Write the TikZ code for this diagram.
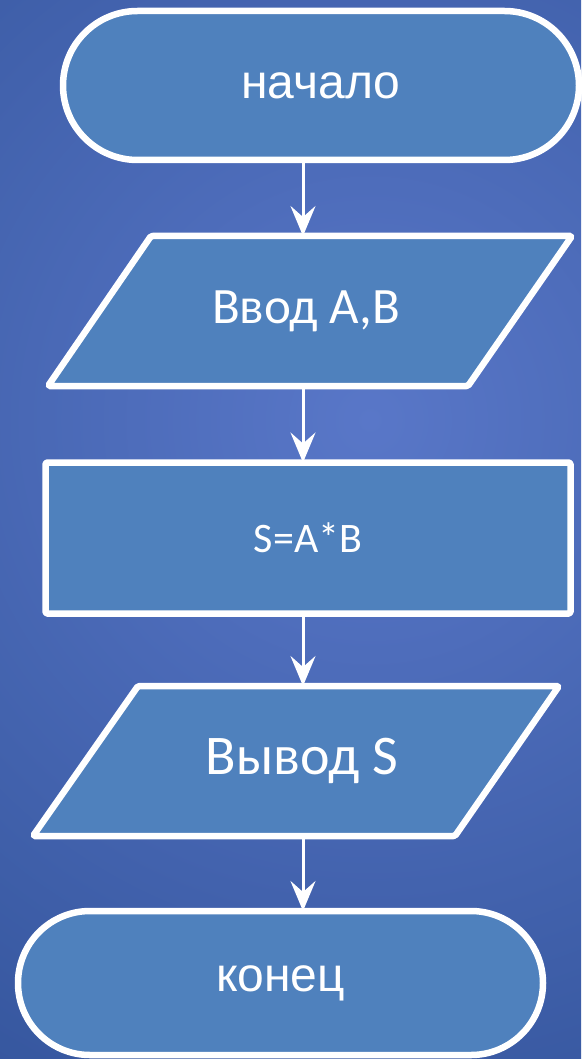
\documentclass[tikz,border=0pt]{standalone}
\usepackage{fontspec}
\setmainfont{Carlito}
\newfontfamily\termfont{Liberation Sans}
\usetikzlibrary{shapes.misc,shadows,arrows.meta}
\definecolor{bgin}{HTML}{5977C8}
\definecolor{bgout}{HTML}{1C3F80}
\definecolor{shapefill}{HTML}{4F81BD}
\tikzset{
  x=1pt,y=-1pt,
  blockbase/.style={draw=white,line width=6.5pt,fill=shapefill,text=white,
    line join=round,
    drop shadow={opacity=0.35,shadow xshift=1pt,shadow yshift=-2.5pt},
    inner sep=0pt,outer sep=0pt},
  termbox/.style={blockbase,rounded rectangle,font=\termfont\fontsize{48}{58}\selectfont},
  iopath/.style={blockbase,rounded corners=1.5pt},
  iotext/.style={draw=none,fill=none,text=white,inner sep=0pt,outer sep=0pt,
    minimum width=420pt,minimum height=150pt},
  procbox/.style={blockbase,rectangle,rounded corners=1.5pt,font=\fontsize{42}{50}\selectfont},
  flow/.style={draw=white,line width=3pt,-{Stealth[length=30pt,width=25pt,inset=11pt]}}
}
\begin{document}
\begin{tikzpicture}
\useasboundingbox (0,0) rectangle (581,1059);
\fill[bgout] (0,0) rectangle (581,1059);
\begin{scope}
\clip (0,0) rectangle (581,1059);
\shade[inner color=bgin,outer color=bgout] (370,420) circle (1300);
\end{scope}
\node[termbox,minimum width=516pt,minimum height=149pt] (start) at (321,85.5) {начало};
\path[iopath] (151,236) -- (572,236) -- (468,386) -- (48,386) -- cycle;
\node[iotext,font=\fontsize{51}{61}\selectfont] (in) at (306,311) {Ввод А,В};
\node[procbox,minimum width=525pt,minimum height=151pt] (calc) at (308,538) {S=A*B};
\path[iopath] (138,686) -- (559,686) -- (455,836) -- (33,836) -- cycle;
\node[iotext,font=\fontsize{56}{67}\selectfont] (out) at (302,761) {Вывод S};
\node[termbox,minimum width=525pt,minimum height=144pt] (stop) at (280.5,983) {конец};
\draw[flow] (start.south -| 303,0) -- (in.north -| 303,0);
\draw[flow] (in.south -| 303,0) -- (calc.north -| 303,0);
\draw[flow] (calc.south -| 303,0) -- (out.north -| 303,0);
\draw[flow] (out.south -| 303,0) -- (stop.north -| 303,0);
\end{tikzpicture}
\end{document}
